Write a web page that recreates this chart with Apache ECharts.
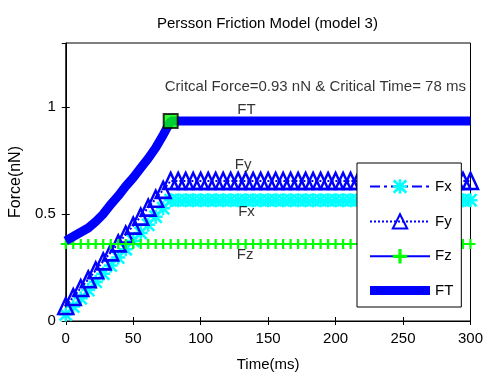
<!DOCTYPE html>
<html>
<head>
<meta charset="utf-8">
<script src="https://cdn.jsdelivr.net/npm/echarts@6/dist/echarts.min.js"></script>
<style>
html,body{margin:0;padding:0;background:#fff;}
#chart{width:486px;height:378px;}
</style>
</head>
<body>
<div id="chart"></div>
<script>
const titleText = 'Persson Friction Model (model 3)';
const noteText = 'Critcal Force=0.93 nN & Critical Time= 78 ms';
const xName = 'Time(ms)';
const yName = 'Force(nN)';
const seriesNames = ['Fx', 'Fy', 'Fz', 'FT'];

const time = [0, 5.56, 11.11, 16.67, 22.22, 27.78, 33.33, 38.89, 44.44, 50,
  55.56, 61.11, 66.67, 72.22, 77.78, 83.33, 88.89, 94.44, 100, 105.56,
  111.11, 116.67, 122.22, 127.78, 133.33, 138.89, 144.44, 150, 155.56, 161.11,
  166.67, 172.22, 177.78, 183.33, 188.89, 194.44, 200, 205.56, 211.11, 216.67,
  222.22, 227.78, 233.33, 238.89, 244.44, 250, 255.56, 261.11, 266.67, 272.22,
  277.78, 283.33, 288.89, 294.44, 300];

const fx = [0.03, 0.068, 0.106, 0.145, 0.183, 0.221, 0.259, 0.297, 0.336, 0.374,
  0.412, 0.45, 0.488, 0.527, 0.565, 0.565, 0.565, 0.565, 0.565, 0.565,
  0.565, 0.565, 0.565, 0.565, 0.565, 0.565, 0.565, 0.565, 0.565, 0.565,
  0.565, 0.565, 0.565, 0.565, 0.565, 0.565, 0.565, 0.565, 0.565, 0.565,
  0.565, 0.565, 0.565, 0.565, 0.565, 0.565, 0.565, 0.565, 0.565, 0.565,
  0.565, 0.565, 0.565, 0.565, 0.565];

const fy = [0.07, 0.112, 0.154, 0.195, 0.237, 0.279, 0.321, 0.363, 0.404, 0.446,
  0.488, 0.53, 0.572, 0.613, 0.655, 0.655, 0.655, 0.655, 0.655, 0.655,
  0.655, 0.655, 0.655, 0.655, 0.655, 0.655, 0.655, 0.655, 0.655, 0.655,
  0.655, 0.655, 0.655, 0.655, 0.655, 0.655, 0.655, 0.655, 0.655, 0.655,
  0.655, 0.655, 0.655, 0.655, 0.655, 0.655, 0.655, 0.655, 0.655, 0.655,
  0.655, 0.655, 0.655, 0.655, 0.655];

const fz = [0.36, 0.36, 0.36, 0.36, 0.36, 0.36, 0.36, 0.36, 0.36, 0.36,
  0.36, 0.36, 0.36, 0.36, 0.36, 0.36, 0.36, 0.36, 0.36, 0.36,
  0.36, 0.36, 0.36, 0.36, 0.36, 0.36, 0.36, 0.36, 0.36, 0.36,
  0.36, 0.36, 0.36, 0.36, 0.36, 0.36, 0.36, 0.36, 0.36, 0.36,
  0.36, 0.36, 0.36, 0.36, 0.36, 0.36, 0.36, 0.36, 0.36, 0.36,
  0.36, 0.36, 0.36, 0.36, 0.36];

const ft = [0.375, 0.395, 0.415, 0.435, 0.465, 0.5, 0.545, 0.585, 0.63, 0.67,
  0.715, 0.76, 0.81, 0.87, 0.935, 0.935, 0.935, 0.935, 0.935, 0.935,
  0.935, 0.935, 0.935, 0.935, 0.935, 0.935, 0.935, 0.935, 0.935, 0.935,
  0.935, 0.935, 0.935, 0.935, 0.935, 0.935, 0.935, 0.935, 0.935, 0.935,
  0.935, 0.935, 0.935, 0.935, 0.935, 0.935, 0.935, 0.935, 0.935, 0.935,
  0.935, 0.935, 0.935, 0.935, 0.935];

const criticalPoint = [77.78, 0.935];

const xMin = 0, xMax = 300, xStep = 50;
const yMin = 0, yMax = 1.3, yStep = 0.5;

const FONT = 'Liberation Sans, Arial, sans-serif';
const BLUE = '#0000ff', CYAN = '#00ffff', GREEN = '#00ff00';

const asteriskPath = 'path://M4.1,0H5.9V10H4.1Z M0,4.1H10V5.9H0Z M1.3,0L10,8.7L8.7,10L0,1.3Z M8.7,0L10,1.3L1.3,10L0,8.7Z';
const plusPath = 'path://M3.9,0H6.1V3.9H10V6.1H6.1V10H3.9V6.1H0V3.9H3.9Z';
const barIcon = 'path://M0,0H60V9H0Z';

const pair = (arr) => time.map((t, i) => [t, arr[i]]);

const chart = echarts.init(document.getElementById('chart'), null, {renderer: 'canvas'});

const option = {
  backgroundColor: '#fff',
  animation: false,
  title: {
    text: titleText,
    left: 152,
    top: 11,
    textStyle: {fontFamily: FONT, fontSize: 15, fontWeight: 'normal', color: '#000'}
  },
  grid: {
    left: 64, right: 14, top: 43, bottom: 57,
    show: true, borderColor: '#000', borderWidth: 1, backgroundColor: '#fff'
  },
  legend: {
    z: 20,
    data: [
      {name: 'Fx'},
      {name: 'Fy'},
      {name: 'Fz'},
      {name: 'FT', icon: barIcon, itemStyle: {color: BLUE}}
    ],
    orient: 'vertical',
    left: 357,
    top: 163,
    padding: [16, 8, 9, 12],
    itemGap: 19.2,
    itemWidth: 60,
    itemHeight: 18,
    borderColor: '#000',
    borderWidth: 1,
    borderRadius: 0,
    backgroundColor: '#fff',
    textStyle: {fontFamily: FONT, fontSize: 15, color: '#000'}
  },
  xAxis: [{
    type: 'value', min: xMin, max: xMax, interval: xStep,
    name: xName, nameLocation: 'middle', nameGap: 36,
    nameTextStyle: {fontFamily: FONT, fontSize: 15, color: '#000'},
    axisLine: {show: true, onZero: false, lineStyle: {color: '#000', width: 1}},
    axisTick: {show: true, inside: true, length: 4, lineStyle: {color: '#000'}},
    axisLabel: {fontFamily: FONT, fontSize: 15, color: '#000', margin: 10},
    splitLine: {show: false}
  }, {
    type: 'value', min: xMin, max: xMax, interval: xStep, position: 'top',
    axisLine: {show: false},
    axisTick: {show: true, inside: true, length: 4, lineStyle: {color: '#000'}},
    axisLabel: {show: false},
    splitLine: {show: false}
  }],
  yAxis: [{
    type: 'value', min: yMin, max: yMax, interval: yStep,
    name: yName, nameLocation: 'middle', nameGap: 39, nameRotate: 90,
    nameTextStyle: {fontFamily: FONT, fontSize: 16, color: '#000'},
    axisLine: {show: true, onZero: false, lineStyle: {color: '#000', width: 1}},
    axisTick: {show: true, inside: true, length: 4, lineStyle: {color: '#000'}},
    axisLabel: {fontFamily: FONT, fontSize: 15, color: '#000', margin: 10, showMaxLabel: false},
    splitLine: {show: false}
  }, {
    type: 'value', min: yMin, max: yMax, interval: yStep, position: 'right',
    axisLine: {show: false},
    axisTick: {show: true, inside: true, length: 4, lineStyle: {color: '#000'}},
    axisLabel: {show: false},
    splitLine: {show: false}
  }],
  series: [
    {
      name: 'Fx', type: 'line', z: 2, clip: false,
      data: pair(fx),
      symbol: asteriskPath, symbolSize: 14, showAllSymbol: true,
      lineStyle: {color: BLUE, width: 2, type: [10, 4, 3, 4]},
      itemStyle: {color: CYAN, borderWidth: 0}
    },
    {
      name: 'Fy', type: 'line', z: 3, clip: false,
      data: pair(fy),
      symbol: 'triangle', symbolSize: [15, 16], showAllSymbol: true,
      lineStyle: {color: BLUE, width: 2, type: 'dotted'},
      itemStyle: {color: 'rgba(255,255,255,0)', borderColor: BLUE, borderWidth: 2.5}
    },
    {
      name: 'Fz', type: 'line', z: 4, clip: false,
      data: pair(fz),
      symbol: plusPath, symbolSize: 10, showAllSymbol: true,
      lineStyle: {color: BLUE, width: 2, type: 'solid'},
      itemStyle: {color: GREEN, borderWidth: 0}
    },
    {
      name: 'FT', type: 'line', z: 5, clip: false,
      data: pair(ft),
      symbol: 'none',
      lineStyle: {color: BLUE, width: 9, type: 'solid'},
      itemStyle: {color: BLUE}
    },
    {
      name: 'critical', type: 'scatter', z: 6,
      data: [criticalPoint],
      symbol: 'rect', symbolSize: 14,
      itemStyle: {color: GREEN, borderColor: '#000', borderWidth: 2}
    },
    {
      name: 'notes', type: 'scatter', z: 7,
      symbolSize: 0,
      data: [
        {name: 'FT', value: [134, 0.986]},
        {name: 'Fy', value: [131.5, 0.729]},
        {name: 'Fx', value: [134, 0.509]},
        {name: 'Fz', value: [133, 0.308]},
        {name: noteText, value: [185, 1.093]}
      ],
      label: {
        show: true, position: 'inside', formatter: '{b}',
        fontFamily: FONT, fontSize: 15, color: '#000'
      },
      emphasis: {disabled: true},
      silent: true
    }
  ]
};
chart.setOption(option);
</script>
</body>
</html>
